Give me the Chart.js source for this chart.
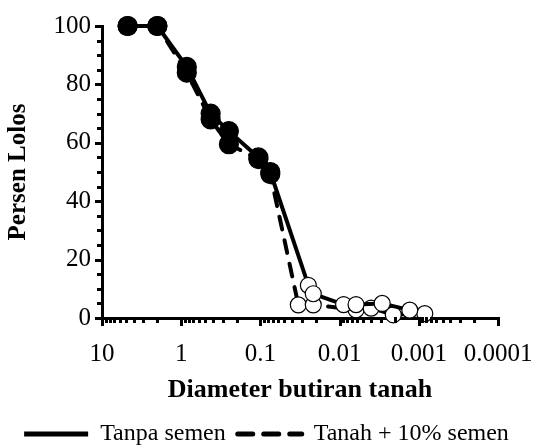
<!DOCTYPE html>
<html><head><meta charset="utf-8">
<script src="https://cdn.jsdelivr.net/npm/chart.js@4"></script>
<style>html,body{margin:0;padding:0;background:#fff}#wrap{width:533px;height:446px;position:relative}</style>
</head><body><div id="wrap"><canvas id="c" width="533" height="446"></canvas></div>
<script>
// ---- data ----
const xTickValues = [10, 1, 0.1, 0.01, 0.001, 0.0001];
const xTickLabels = ['10', '1', '0.1', '0.01', '0.001', '0.0001'];
const yTickValues = [0, 20, 40, 60, 80, 100];
const seriesNames = ['Tanpa semen', 'Tanah + 10% semen'];

const sizeTanpa = [4.75, 2.0, 0.85, 0.425, 0.25, 0.106, 0.075, 0.0248, 0.0215, 0.0089, 0.0062, 0.0029, 0.0013];
const passTanpa = [100, 100, 86, 70, 64, 55, 50, 11.2, 8.3, 4.6, 4.6, 5.0, 2.7];
const testTanpa = ['ayakan','ayakan','ayakan','ayakan','ayakan','ayakan','ayakan','hidrometer','hidrometer','hidrometer','hidrometer','hidrometer','hidrometer'];

const sizeSemen = [4.75, 2.0, 0.85, 0.425, 0.25, 0.106, 0.075, 0.0332, 0.0215, 0.0062, 0.0040, 0.0021, 0.00084];
const passSemen = [100, 100, 84, 68, 59.5, 54.4, 49.3, 4.5, 4.5, 2.8, 3.4, 1.1, 1.5];
const testSemen = ['ayakan','ayakan','ayakan','ayakan','ayakan','ayakan','ayakan','hidrometer','hidrometer','hidrometer','hidrometer','hidrometer','hidrometer'];

// ---- chart ----
const FONT = '"Liberation Serif", "Times New Roman", serif';
const toPts = (xs, ys) => xs.map((v, i) => ({x: v, y: ys[i]}));
const fillFor = t => t.map(k => k === 'ayakan' ? '#000' : '#fff');
const radFor = t => t.map(k => k === 'ayakan' ? 9.5 : 8);

const tickMarks = {
  id: 'tickMarks',
  afterDraw(chart) {
    const {ctx, scales: {x, y}, chartArea: a} = chart;
    ctx.save();
    ctx.strokeStyle = '#000';
    ctx.lineWidth = 3;
    ctx.lineCap = 'butt';
    const seg = (x1, y1, x2, y2) => { ctx.beginPath(); ctx.moveTo(x1, y1); ctx.lineTo(x2, y2); ctx.stroke(); };
    for (let v = 0; v <= 100; v += 5) {
      const py = Math.round(y.getPixelForValue(v)) + 0.5;
      const len = (v % 20 === 0) ? 7 : 5;
      seg(a.left - len, py, a.left + 1, py);
    }
    for (let e = -4; e <= 1; e++) {
      for (let m = 1; m <= 9; m++) {
        const v = m * Math.pow(10, e);
        if (v > 10.0001) continue;
        const px = Math.round(x.getPixelForValue(v)) + 0.5;
        const len = (m === 1) ? 8 : 5;
        seg(px, a.bottom - 1, px, a.bottom + len);
      }
    }
    ctx.restore();
  }
};

new Chart(document.getElementById('c'), {
  type: 'line',
  data: {
    datasets: [
      {
        label: seriesNames[0],
        data: toPts(sizeTanpa, passTanpa),
        borderColor: '#000',
        borderWidth: 4,
        pointBackgroundColor: fillFor(testTanpa),
        pointBorderColor: '#000',
        pointBorderWidth: 1.2,
        pointRadius: radFor(testTanpa),
        pointHoverRadius: radFor(testTanpa),
        tension: 0,
        clip: false
      },
      {
        label: seriesNames[1],
        data: toPts(sizeSemen, passSemen),
        borderColor: '#000',
        borderWidth: 4,
        borderDash: [13, 11],
        borderCapStyle: 'round',
        pointBackgroundColor: fillFor(testSemen),
        pointBorderColor: '#000',
        pointBorderWidth: 1.2,
        pointRadius: radFor(testSemen),
        pointHoverRadius: radFor(testSemen),
        tension: 0,
        clip: false
      }
    ]
  },
  options: {
    responsive: false,
    animation: false,
    devicePixelRatio: 1,
    layout: {padding: {top: 23, right: 0, left: 0, bottom: -10}},
    plugins: {
      tooltip: {enabled: false},
      legend: {
        position: 'bottom',
        labels: {
          usePointStyle: true,
          pointStyleWidth: 64,
          padding: 12,
          color: '#000',
          font: {family: FONT, size: 24},
          generateLabels: () => [
            {text: seriesNames[0], pointStyle: 'line', strokeStyle: '#000', fillStyle: '#000', lineWidth: 5, lineDash: [], lineCap: 'butt', datasetIndex: 0, fontColor: '#000'},
            {text: seriesNames[1], pointStyle: 'line', strokeStyle: '#000', fillStyle: '#000', lineWidth: 5, lineDash: [15, 11], lineCap: 'round', datasetIndex: 1, fontColor: '#000'}
          ]
        }
      }
    },
    scales: {
      x: {
        type: 'logarithmic',
        reverse: true,
        min: 0.0001,
        max: 10,
        afterBuildTicks: s => { s.ticks = xTickValues.map(v => ({value: v})); },
        afterFit: s => { s.height = 92; s.paddingRight = 35; s.paddingLeft = 0; },
        ticks: {
          autoSkip: false, maxRotation: 0, padding: 21, color: '#000',
          font: {family: FONT, size: 25},
          callback: (v, i) => xTickLabels[i]
        },
        grid: {display: true, drawOnChartArea: false, drawTicks: false},
        border: {display: true, color: '#000', width: 3},
        title: {display: true, text: 'Diameter butiran tanah', color: '#000', font: {family: FONT, size: 26, weight: 'bold'}, padding: {top: 0}}
      },
      y: {
        min: 0,
        max: 100,
        afterBuildTicks: s => { s.ticks = yTickValues.map(v => ({value: v})); },
        afterFit: s => { s.width = 102; },
        ticks: {padding: 11, color: '#000', font: {family: FONT, size: 25}},
        grid: {display: true, drawOnChartArea: false, drawTicks: false},
        border: {display: true, color: '#000', width: 3},
        title: {display: true, text: 'Persen Lolos', color: '#000', font: {family: FONT, size: 25, weight: 'bold'}, padding: {top: 4, bottom: 4}}
      }
    }
  },
  plugins: [tickMarks]
});
</script>
</body></html>
